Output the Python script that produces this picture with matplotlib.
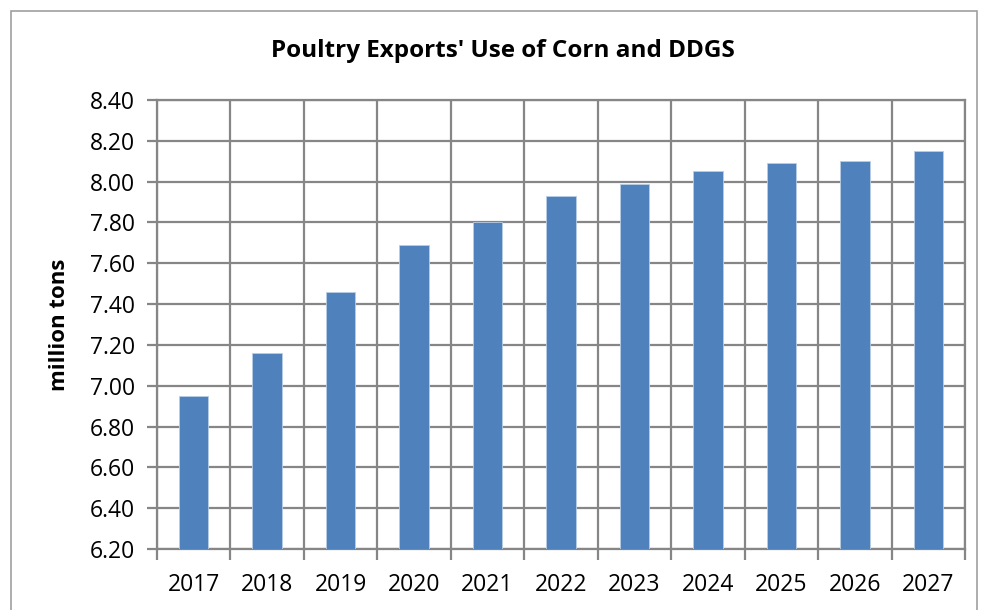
import matplotlib
matplotlib.use("Agg")
import matplotlib.pyplot as plt
from matplotlib.patches import Rectangle

years = ["2017", "2018", "2019", "2020", "2021", "2022", "2023", "2024", "2025", "2026", "2027"]
values = [6.95, 7.16, 7.46, 7.69, 7.80, 7.93, 7.99, 8.05, 8.09, 8.10, 8.15]
yticks = [6.20, 6.40, 6.60, 6.80, 7.00, 7.20, 7.40, 7.60, 7.80, 8.00, 8.20, 8.40]
title = "Poultry Exports' Use of Corn and DDGS"
ylabel = "million tons"

plt.rcParams['font.family'] = ['Open Sans', 'DejaVu Sans']

fig = plt.figure(figsize=(9.81, 6.10), dpi=100)
ax = fig.add_axes([157/981, 1-549/610, (965-157)/981, (549-100)/610])

x = list(range(len(years)))
ax.bar(x, values, width=0.4, color='#4F81BD', edgecolor='#B9CDE5', linewidth=0.6, zorder=3)
ax.set_xlim(-0.5, len(years)-0.5)
ax.set_ylim(6.20, 8.40)
ax.set_yticks(yticks)
ax.set_yticklabels([f"{v:.2f}" for v in yticks])
ax.set_xticks(x)
ax.set_xticklabels(years)
ax.set_xticks([i-0.5 for i in range(len(years)+1)], minor=True)

gc = '#868686'
ax.grid(True, axis='y', which='major', color=gc, linewidth=1.6, zorder=0)
ax.grid(True, axis='x', which='minor', color=gc, linewidth=1.6, zorder=0)
ax.tick_params(axis='x', which='major', length=0, pad=17, labelsize=16.5)
ax.tick_params(axis='x', which='minor', length=8, width=1.6, color=gc)
ax.tick_params(axis='y', which='major', length=7, width=1.6, color=gc, labelsize=16.5, pad=9)
for s in ax.spines.values():
    s.set_color(gc)
    s.set_linewidth(1.6)

ax.set_ylabel(ylabel, fontsize=16, fontweight='bold', labelpad=14)
fig.text(0.513, 1-51/610, title, ha='center', va='center', fontsize=17.5, fontweight='bold')

fig.patches.append(Rectangle((11/981, -0.1), (977-11)/981, 1.1 - 11/610, transform=fig.transFigure,
                             fill=False, edgecolor='#A0A0A0', linewidth=1.2))

fig.savefig("out.png", dpi=100)
